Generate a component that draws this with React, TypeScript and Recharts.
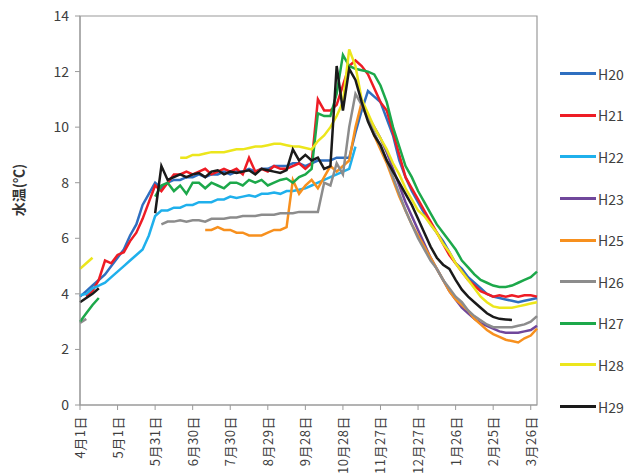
import React from 'react';
import { LineChart, Line, XAxis, YAxis, ReferenceArea } from 'recharts';

// days counted from 4月1日, one point every 5 days
const DAYS = [
  0, 5, 10, 15, 20, 25, 30, 35, 40, 45,
  50, 55, 60, 65, 70, 75, 80, 85, 90, 95,
  100, 105, 110, 115, 120, 125, 130, 135, 140, 145,
  150, 155, 160, 165, 170, 175, 180, 185, 190, 195,
  200, 205, 210, 215, 220, 225, 230, 235, 240, 245,
  250, 255, 260, 265, 270, 275, 280, 285, 290, 295,
  300, 305, 310, 315, 320, 325, 330, 335, 340, 345,
  350, 355, 360, 365,
];

const TICK_DAYS = [0, 30, 60, 90, 120, 150, 180, 210, 240, 270, 300, 330, 360];
const TICK_LABELS = ['4月1日', '5月1日', '5月31日', '6月30日', '7月30日', '8月29日', '9月28日', '10月28日', '11月27日', '12月27日', '1月26日', '2月25日', '3月26日'];
const Y_TICKS = [0, 2, 4, 6, 8, 10, 12, 14];

const H20 = [
  3.9, 4.1, 4.3, 4.5, 4.7, 5.0, 5.3, 5.6, 6.1, 6.5,
  7.2, 7.6, 8.0, 7.8, 8.0, 8.1, 8.1, 8.2, 8.2, 8.3,
  8.2, 8.3, 8.3, 8.4, 8.3, 8.4, 8.4, 8.5, 8.4, 8.5,
  8.5, 8.6, 8.6, 8.6, 8.7, 8.7, 8.6, 8.7, 8.8, 8.8,
  8.8, 8.9, 8.9, 8.9, 9.8, 10.6, 11.3, 11.1, 10.9, 10.3,
  9.7, 8.8, 8.2, 7.7, 7.3, 6.9, 6.5, 6.2, 5.9, 5.5,
  5.1, 4.9, 4.6, 4.4, 4.2, 4.0, 3.9, 3.85, 3.8, 3.75,
  3.7, 3.75, 3.8, 3.85,
];
const H21 = [
  null, 3.9, 4.1, 4.5, 5.2, 5.1, 5.4, 5.5, 5.9, 6.2,
  6.7, 7.3, 7.9, 7.7, 8.0, 8.3, 8.3, 8.4, 8.3, 8.4,
  8.5, 8.3, 8.4, 8.5, 8.4, 8.5, 8.3, 8.9, 8.4, 8.5,
  8.4, 8.6, 8.5, 8.5, 8.6, 8.7, 8.5, 8.7, 11.0, 10.6,
  10.6, 10.8, 11.5, 12.2, 12.4, 12.2, 11.9, 11.4, 10.9, 10.6,
  9.8, 9.0, 8.2, 7.8, 7.4, 7.0, 6.6, 6.2, 5.8, 5.4,
  5.1, 4.8, 4.5, 4.3, 4.1, 4.0, 3.9, 3.95, 3.9, 3.95,
  3.9, 3.95, 3.95, 3.9,
];
const H22 = [
  3.95, 4.0, 4.2, 4.3, 4.4, 4.6, 4.8, 5.0, 5.2, 5.4,
  5.6, 6.1, 6.8, 7.0, 7.0, 7.1, 7.1, 7.2, 7.2, 7.3,
  7.3, 7.3, 7.4, 7.4, 7.5, 7.45, 7.5, 7.55, 7.5, 7.6,
  7.6, 7.65, 7.6, 7.7, 7.7, 7.75, 7.8, 7.9, 8.0, 8.1,
  8.2, 8.3, 8.4, 8.5, 9.3, null, null, null, null, null,
  null, null, null, null, null, null, null, null, null, null,
  null, null, null, null, null, null, null, null, null, null,
  null, null, null, null,
];
const H23 = [
  null, null, null, null, null, null, null, null, null, null,
  null, null, null, null, null, null, null, null, null, null,
  null, null, null, null, null, null, null, null, null, null,
  null, null, null, null, null, null, null, null, null, null,
  null, null, null, null, null, 10.8, 10.4, 10.0, 9.6, 9.1,
  8.5, 7.9, 7.3, 6.8, 6.3, 5.8, 5.3, 4.9, 4.5, 4.1,
  3.8, 3.5, 3.3, 3.1, 2.95, 2.85, 2.75, 2.65, 2.6, 2.6,
  2.6, 2.65, 2.7, 2.85,
];
const H25 = [
  null, null, null, null, null, null, null, null, null, null,
  null, null, null, null, null, null, null, null, null, null,
  6.3, 6.3, 6.4, 6.3, 6.3, 6.2, 6.2, 6.1, 6.1, 6.1,
  6.2, 6.3, 6.3, 6.4, 8.1, 7.6, 7.9, 8.1, 7.8, 8.2,
  8.6, 8.4, 8.6, 8.8, 10.0, 10.9, 10.3, 9.7, 9.2, 8.7,
  8.1, 7.5, 7.0, 6.5, 6.1, 5.7, 5.3, 4.9, 4.5, 4.1,
  3.8, 3.6, 3.4, 3.1, 2.9, 2.7, 2.55, 2.45, 2.35, 2.3,
  2.25, 2.4, 2.5, 2.75,
];
const H26 = [
  2.95, 3.1, null, null, null, null, null, null, null, null,
  null, null, null, 6.5, 6.6, 6.6, 6.65, 6.6, 6.65, 6.65,
  6.6, 6.7, 6.7, 6.7, 6.75, 6.75, 6.8, 6.8, 6.8, 6.85,
  6.85, 6.85, 6.9, 6.9, 6.9, 6.95, 6.95, 6.95, 6.95, 8.0,
  7.9, 8.7, 8.3, 10.0, 11.2, 10.8, 10.3, 9.8, 9.3, 8.8,
  8.2, 7.6, 7.0, 6.5, 6.0, 5.6, 5.2, 4.9, 4.5, 4.2,
  3.9, 3.7, 3.4, 3.2, 3.05, 2.9, 2.8, 2.8, 2.8, 2.8,
  2.85, 2.9, 3.0, 3.2,
];
const H27 = [
  3.0, 3.3, 3.6, 3.85, null, null, null, null, null, null,
  null, null, 7.5, 7.9, 8.0, 7.7, 7.9, 7.6, 8.0, 8.0,
  7.8, 8.0, 7.9, 7.8, 8.0, 8.0, 7.9, 8.1, 8.0, 8.1,
  7.9, 8.0, 8.1, 8.15, 8.0, 8.2, 8.3, 8.5, 10.5, 10.4,
  10.4, 11.2, 12.6, 12.2, 12.1, 12.05, 12.0, 11.9, 11.5, 10.9,
  10.0, 9.3, 8.6, 8.2, 7.7, 7.3, 6.9, 6.5, 6.2, 5.9,
  5.6, 5.2, 4.95, 4.7, 4.5, 4.4, 4.3, 4.25, 4.25, 4.3,
  4.4, 4.5, 4.6, 4.8,
];
const H28 = [
  4.9, 5.1, 5.3, null, null, null, null, null, null, null,
  null, null, null, null, null, null, 8.9, 8.9, 9.0, 9.0,
  9.05, 9.1, 9.1, 9.1, 9.15, 9.2, 9.2, 9.25, 9.3, 9.3,
  9.35, 9.4, 9.4, 9.35, 9.3, 9.3, 9.25, 9.2, 9.5, 9.7,
  10.0, 10.4, 10.9, 12.8, 12.2, 11.0, 10.5, 10.0, 9.6, 9.2,
  8.7, 8.3, 7.8, 7.4, 7.0, 6.8, 6.5, 6.2, 5.8, 5.5,
  5.1, 4.8, 4.5, 4.2, 3.9, 3.7, 3.55, 3.5, 3.5, 3.5,
  3.55, 3.6, 3.65, 3.7,
];
const H29 = [
  3.7, 3.85, 4.0, 4.2, null, null, null, null, null, null,
  null, null, 6.9, 8.6, 8.1, 8.2, 8.3, 8.2, 8.3, 8.35,
  8.2, 8.4, 8.45, 8.3, 8.4, 8.35, 8.4, 8.45, 8.3, 8.5,
  8.45, 8.4, 8.35, 8.45, 9.2, 8.8, 9.0, 8.8, 8.9, 8.5,
  8.6, 12.2, 10.6, 12.1, 11.7, 10.9, 10.2, 9.7, 9.35, 8.8,
  8.4, 8.0, 7.6, 7.2, 6.7, 6.2, 5.7, 5.3, 5.05, 4.9,
  4.5, 4.15, 3.9, 3.7, 3.5, 3.3, 3.17, 3.1, 3.08, 3.06,
  null, null, null, null,
];

const SERIES = [
  { key: 'H20', color: '#2f6fc0', values: H20 },
  { key: 'H21', color: '#ee1c25', values: H21 },
  { key: 'H22', color: '#1fb0ec', values: H22 },
  { key: 'H23', color: '#70479b', values: H23 },
  { key: 'H25', color: '#f7901e', values: H25 },
  { key: 'H26', color: '#8c8c8c', values: H26 },
  { key: 'H27', color: '#1ca84a', values: H27 },
  { key: 'H28', color: '#ece61c', values: H28 },
  { key: 'H29', color: '#1a1a1a', values: H29 },
];

const data = DAYS.map((day, i) => {
  const row: Record<string, number | null> = { day };
  SERIES.forEach((s) => { row[s.key] = s.values[i]; });
  return row;
});

const FONT = "'Noto Sans CJK JP', 'Noto Sans', sans-serif";
const AXIS = '#9a9a9a';

const DateTick = (props: any) => {
  const { x, y, payload } = props;
  const idx = TICK_DAYS.indexOf(payload.value);
  return (
    <text x={0} y={0} transform={`translate(${x + 5},${y + 4}) rotate(-90)`} textAnchor="end"
      fontSize={13} fontFamily={FONT} fill="#404040" letterSpacing={0.5}>
      {TICK_LABELS[idx]}
    </text>
  );
};

const YTitle = () => (
  <text x={0} y={0} transform="translate(24,190) rotate(-90)" textAnchor="middle"
    fontSize={14} fontWeight={700} fontFamily={FONT} fill="#333">
    水温(℃)
  </text>
);

export default function App() {
  return (
    <div style={{ position: 'absolute', left: 0, top: 0, width: 640, height: 476, background: '#fff' }}>
      <LineChart width={640} height={476} data={data} margin={{ top: 16, right: 103, bottom: 0, left: 0 }}>
        <XAxis dataKey="day" type="number" domain={[0, 365]} ticks={TICK_DAYS} interval={0}
          height={71} stroke={AXIS} tickSize={5} tick={<DateTick />} />
        <YAxis type="number" domain={[0, 14]} ticks={Y_TICKS} interval={0} width={80} stroke={AXIS}
          tickSize={5} tickMargin={6} tick={{ fill: '#404040', fontSize: 14, fontFamily: FONT }}
          label={<YTitle />} />
        {/* plot area frame */}
        <ReferenceArea x1={0} x2={365} y1={0} y2={14} fill="none" stroke={AXIS} strokeWidth={1.2}
          ifOverflow="visible" />
        {SERIES.map((s) => (
          <Line key={s.key} type="linear" dataKey={s.key} stroke={s.color} strokeWidth={2.5}
            dot={false} isAnimationActive={false} connectNulls={false} />
        ))}
      </LineChart>
      <div style={{ position: 'absolute', left: 560, top: 53, fontFamily: FONT }}>
        {SERIES.map((s) => (
          <div key={s.key} style={{ height: 41.6, display: 'flex', alignItems: 'center' }}>
            <div style={{ width: 36, height: 3, background: s.color }} />
            <span style={{ fontSize: 14, color: '#404040', marginLeft: 2 }}>{s.key}</span>
          </div>
        ))}
      </div>
    </div>
  );
}
